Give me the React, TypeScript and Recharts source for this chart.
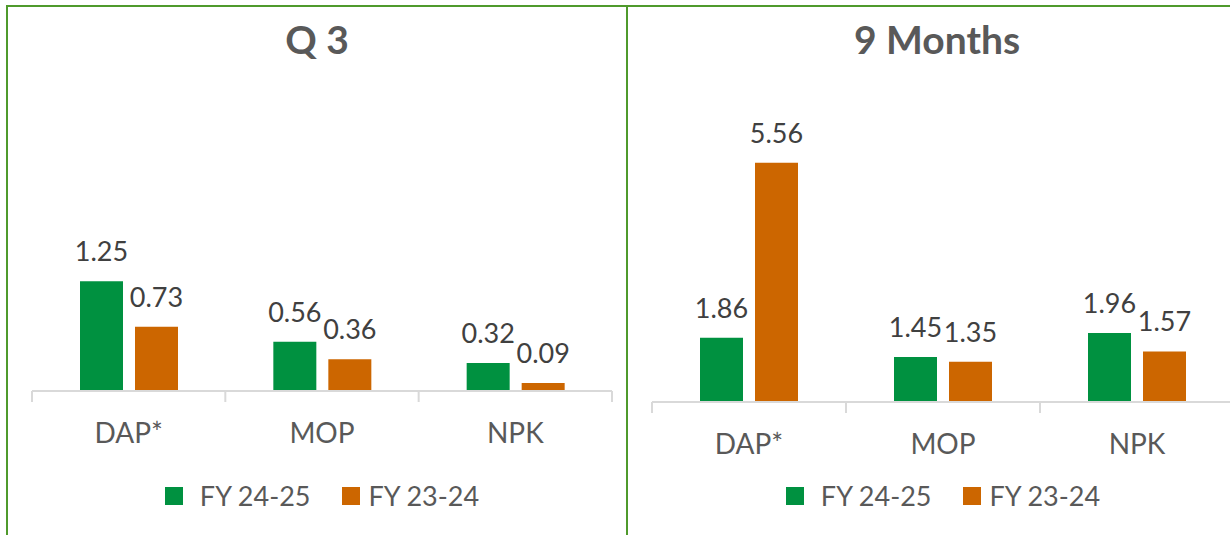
import { Bar, BarChart, LabelList, Legend, XAxis, YAxis } from "recharts";

const categories = ["DAP*", "MOP", "NPK"];
const seriesNames = ["FY 24-25", "FY 23-24"];
const q3Current = [1.25, 0.56, 0.32];
const q3Previous = [0.73, 0.36, 0.09];
const nineMonthsCurrent = [1.86, 1.45, 1.96];
const nineMonthsPrevious = [5.56, 1.35, 1.57];

const GREEN = "#009140";
const ORANGE = "#CC6600";
const BORDER = "#4f9a2c";
const FONT = "Lato, 'Open Sans', sans-serif";

const toRows = (cur: number[], prev: number[]) =>
  categories.map((name, i) => ({ name, current: cur[i], previous: prev[i] }));

function CategoryTick(props: any) {
  const { x, y, payload, index, visibleTicksCount, width } = props;
  const half = payload.offset || width / visibleTicksCount / 2;
  return (
    <g>
      <line x1={x - half} x2={x - half} y1={y} y2={y + 11} stroke="#d9d9d9" strokeWidth={2} />
      {index === visibleTicksCount - 1 && (
        <line x1={x + half} x2={x + half} y1={y} y2={y + 11} stroke="#d9d9d9" strokeWidth={2} />
      )}
      <text x={x} y={y + 52} textAnchor="middle" fill="#595959" fontSize={28} fontFamily={FONT}>
        {payload.value}
      </text>
    </g>
  );
}

function LegendContent({ payload }: any) {
  // keep series order (recharts sorts legend items by name)
  const items = [...(payload || [])].sort(
    (a: any, b: any) => seriesNames.indexOf(a.value) - seriesNames.indexOf(b.value)
  );
  return (
    <div style={{ display: "flex", justifyContent: "center", alignItems: "center", height: 30 }}>
      {items.map((p: any, i: number) => (
        <div key={p.value} style={{ display: "flex", alignItems: "center", marginLeft: i ? 31 : 0 }}>
          <span style={{ width: 18, height: 18, background: p.color, marginRight: i ? 9 : 17 }} />
          <span style={{ fontFamily: FONT, fontSize: 27, color: "#595959", lineHeight: "30px" }}>
            {p.value}
          </span>
        </div>
      ))}
    </div>
  );
}

interface PanelProps {
  title: string;
  left: number;
  width: number;
  chartLeft: number;
  chartWidth: number;
  margin: { top: number; right: number; left: number; bottom: number };
  domain: [number, number];
  data: { name: string; current: number; previous: number }[];
}

function Panel({ title, left, width, chartLeft, chartWidth, margin, domain, data }: PanelProps) {
  const labelProps = {
    position: "top" as const,
    offset: 20,
    fill: "#404040",
    fontSize: 27,
    fontFamily: FONT,
    formatter: (v: any) => Number(v).toFixed(2),
  };
  return (
    <>
      <div
        style={{
          position: "absolute",
          left,
          top: 5,
          width,
          height: 700,
          border: `2px solid ${BORDER}`,
          boxSizing: "border-box",
        }}
      />
      <div
        style={{
          position: "absolute",
          left,
          top: 16,
          width,
          textAlign: "center",
          fontFamily: FONT,
          fontWeight: 700,
          fontSize: 39,
          lineHeight: 1.2,
          color: "#595959",
        }}
      >
        {title}
      </div>
      <div style={{ position: "absolute", left: chartLeft, top: 0 }}>
        <BarChart width={chartWidth} height={535} data={data} margin={margin} barGap={12}>
          <XAxis
            dataKey="name"
            interval={0}
            height={60}
            tickSize={0}
            tickMargin={0}
            tickLine={false}
            axisLine={{ stroke: "#d9d9d9", strokeWidth: 2 }}
            tick={<CategoryTick />}
          />
          <YAxis hide type="number" domain={domain} />
          <Legend
            verticalAlign="middle"
            align="center"
            layout="horizontal"
            content={<LegendContent />}
            wrapperStyle={{ top: 481, left: margin.left, width: chartWidth - margin.left - margin.right }}
          />
          <Bar dataKey="current" name={seriesNames[0]} fill={GREEN} barSize={43} isAnimationActive={false}>
            <LabelList dataKey="current" {...labelProps} />
          </Bar>
          <Bar dataKey="previous" name={seriesNames[1]} fill={ORANGE} barSize={43} isAnimationActive={false}>
            <LabelList dataKey="previous" {...labelProps} />
          </Bar>
        </BarChart>
      </div>
    </>
  );
}

export default function App() {
  return (
    <div
      style={{
        position: "absolute",
        left: 0,
        top: 0,
        width: 1230,
        height: 535,
        overflow: "hidden",
        background: "#fff",
      }}
    >
      <Panel
        title="Q 3"
        left={6}
        width={622}
        chartLeft={0}
        chartWidth={628}
        margin={{ top: 268, right: 16, left: 32, bottom: 84 }}
        domain={[0, 1.4]}
        data={toRows(q3Current, q3Previous)}
      />
      <Panel
        title="9 Months"
        left={626}
        width={622}
        chartLeft={628}
        chartWidth={622}
        margin={{ top: 142, right: 16, left: 24, bottom: 73 }}
        domain={[0.5, 6]}
        data={toRows(nineMonthsCurrent, nineMonthsPrevious)}
      />
    </div>
  );
}
